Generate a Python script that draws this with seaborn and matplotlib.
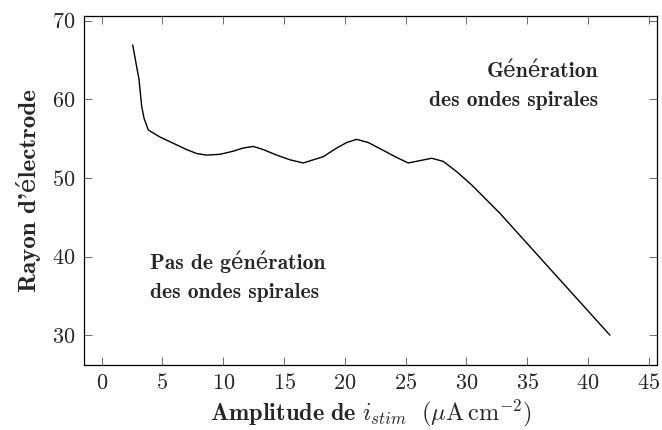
import matplotlib
matplotlib.use('Agg')

import pandas as pd
import matplotlib.pyplot as plt
import seaborn as sns

# courbe
amplitude = [2.55, 2.82, 3.07, 3.29, 3.48, 3.83, 4.79, 5.89, 6.99, 7.81,
             8.63, 9.73, 10.82, 11.64, 12.47, 13.29, 14.39, 15.49, 16.58,
             17.40, 18.22, 19.33, 20.15, 20.97, 21.92, 23.16, 24.26, 25.21,
             26.18, 27.14, 28.09, 29.19, 30.43, 32.75, 41.8]
rayon = [66.9, 64.6, 62.5, 59.1, 57.6, 56.1, 55.2, 54.4, 53.6, 53.1,
         52.9, 53.0, 53.4, 53.8, 54.0, 53.6, 52.9, 52.3, 51.9,
         52.3, 52.7, 53.8, 54.5, 54.9, 54.5, 53.5, 52.6, 51.9,
         52.2, 52.5, 52.1, 50.8, 49.1, 45.5, 30.0]

xticks = [0, 5, 10, 15, 20, 25, 30, 35, 40, 45]
yticks = [30, 40, 50, 60, 70]

df = pd.DataFrame({'amplitude': amplitude, 'rayon': rayon})

sns.set_theme(style='ticks')
plt.rcParams['font.family'] = ['cmr10', 'DejaVu Serif']
plt.rcParams['mathtext.fontset'] = 'cm'
plt.rcParams['axes.formatter.use_mathtext'] = True

fig = plt.figure(figsize=(6.62, 4.30), dpi=100)
ax = fig.add_axes([0.127, 0.151, 0.866, 0.812])

sns.lineplot(data=df, x='amplitude', y='rayon', sort=False,
             color='black', linewidth=1.0, ax=ax)

ax.set_xlim(-1.45, 45.7)
ax.set_ylim(26.2, 70.6)
ax.set_xticks(xticks)
ax.set_yticks(yticks)
ax.tick_params(direction='in', top=True, right=True, length=6, width=0.6,
               color='#555555', labelsize=16, pad=6)
for s in ax.spines.values():
    s.set_color('black')
    s.set_linewidth(0.9)

bold = ['cmb10', 'DejaVu Serif']
ax.set_xlabel(r'$\mathbf{Amplitude\ de}\ i_{stim}\ \ (\mu\mathrm{A\,cm^{-2}})$',
              fontsize=17.5, labelpad=3)
ax.set_ylabel("Rayon d'électrode", family=bold, fontsize=18, labelpad=8)

ax.text(40.8, 63.5, 'Génération', family=bold, fontsize=15.5,
        ha='right', va='center')
ax.text(40.8, 59.9, 'des ondes spirales', family=bold, fontsize=15.5,
        ha='right', va='center')
ax.text(3.97, 39.3, 'Pas de génération', family=bold, fontsize=15.5,
        ha='left', va='center')
ax.text(3.97, 35.4, 'des ondes spirales', family=bold, fontsize=15.5,
        ha='left', va='center')

fig.savefig('out.png', dpi=100)
